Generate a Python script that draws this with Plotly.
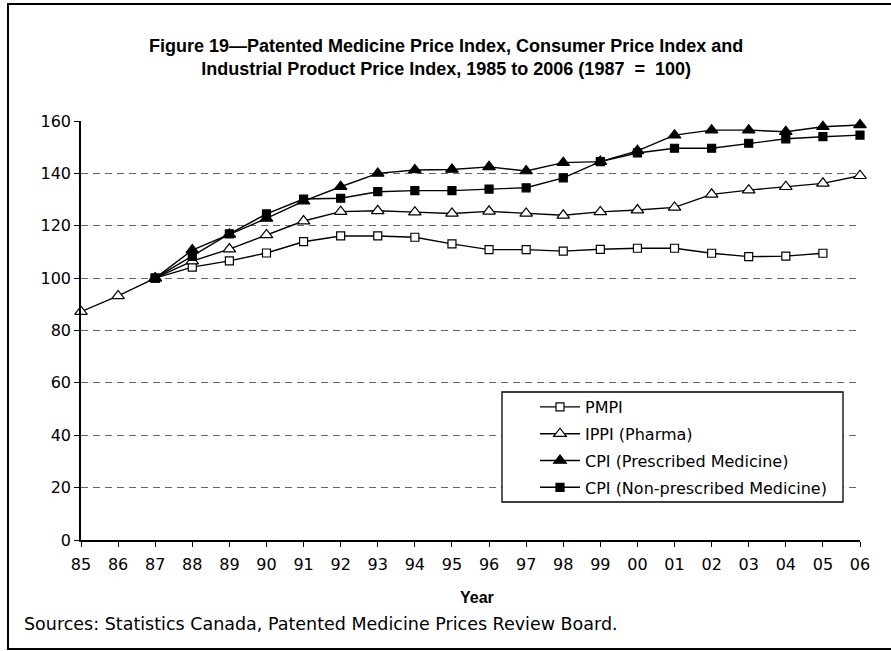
import plotly.graph_objects as go

years = ["85", "86", "87", "88", "89", "90", "91", "92", "93", "94", "95",
         "96", "97", "98", "99", "00", "01", "02", "03", "04", "05", "06"]

pmpi = [None, None, 100, 104.2, 106.6, 109.6, 113.9, 116.1, 116.1, 115.6, 113.1,
        110.9, 110.9, 110.3, 111.0, 111.4, 111.4, 109.5, 108.2, 108.4, 109.5, None]
ippi = [87.2, 93.2, 100, 106.5, 111.1, 116.5, 121.8, 125.4, 125.7, 125.2, 124.7,
        125.5, 124.7, 124.0, 125.3, 126.0, 127.0, 132.0, 133.6, 134.9, 136.2, 139.1]
cpi_p = [None, None, 100, 110.7, 116.7, 122.8, 129.4, 134.9, 140.0, 141.3, 141.5,
         142.5, 140.9, 144.1, 144.5, 148.6, 154.6, 156.5, 156.5, 155.9, 157.8, 158.5]
cpi_np = [None, None, 100, 108.3, 116.9, 124.5, 130.2, 130.5, 133.0, 133.4, 133.4,
          134.0, 134.5, 138.3, 144.5, 147.8, 149.6, 149.6, 151.5, 153.2, 154.0, 154.6]

series_names = ["PMPI", "IPPI (Pharma)", "CPI (Prescribed Medicine)",
                "CPI (Non-prescribed Medicine)"]
y_ticks = [0, 20, 40, 60, 80, 100, 120, 140, 160]

W, H = 891, 651
L, R, T, B = 81, 891 - 860, 121, 651 - 540
pw, ph = W - L - R, H - T - B

def px(x):
    return (x - L) / pw

def py(y):
    return (H - B - y) / ph

FONT = "DejaVu Sans, Verdana, sans-serif"
ARIAL = "Liberation Sans, Arial, sans-serif"

styles = [
    dict(symbol="square", size=8, color="white"),
    dict(symbol="triangle-up", size=11, color="white"),
    dict(symbol="triangle-up", size=11, color="black"),
    dict(symbol="square", size=8, color="black"),
]

fig = go.Figure()
for i, (name, vals) in enumerate(zip(series_names, [pmpi, ippi, cpi_p, cpi_np])):
    st = styles[i]
    fig.add_trace(go.Scatter(
        x=years, y=vals, name=name, mode="lines+markers",
        line=dict(color="black", width=1.4),
        marker=dict(symbol=st["symbol"], size=st["size"], color=st["color"],
                    line=dict(color="black", width=1.2)),
        cliponaxis=False, legendgroup=str(i),
    ))

frame = dict(color="black", width=2)
fig.update_layout(
    width=W, height=H,
    margin=dict(l=L, r=R, t=T, b=B, autoexpand=False),
    paper_bgcolor="white", plot_bgcolor="white",
    font=dict(family=FONT, size=16, color="black"),
    showlegend=True,
    legend=dict(x=px(535), y=py(390), xanchor="left", yanchor="top",
                borderwidth=0, bgcolor="rgba(0,0,0,0)",
                font=dict(size=16), tracegroupgap=3, itemwidth=40,
                traceorder="grouped"),
    xaxis=dict(type="category", range=[0, 21], showgrid=False, zeroline=False,
               showline=True, linecolor="black", linewidth=1.5,
               ticks="outside", ticklen=5, tickcolor="black", tickwidth=1,
               tickfont=dict(size=16), ticklabelstandoff=4),
    yaxis=dict(range=[0, 160], tickvals=y_ticks, showgrid=True,
               gridcolor="#666666", griddash="7px,5px", gridwidth=1,
               zeroline=False, showline=True, linecolor="black", linewidth=1.5,
               ticks="outside", ticklen=5, tickcolor="black", tickwidth=1,
               tickfont=dict(size=16)),
    annotations=[
        dict(text="<b>Figure 19\u2014Patented Medicine Price Index, Consumer Price Index and<br>"
                  "Industrial Product Price Index, 1985 to 2006 (1987 \u00a0=\u00a0 100)</b>",
             xref="paper", yref="paper", x=px(445.5), y=py(57.5),
             xanchor="center", yanchor="middle", showarrow=False,
             font=dict(family=ARIAL, size=18)),
        dict(text="<b>Year</b>", xref="paper", yref="paper", x=px(477), y=py(597),
             xanchor="center", yanchor="middle", showarrow=False,
             font=dict(family=ARIAL, size=16)),
        dict(text="Sources: Statistics Canada, Patented Medicine Prices Review Board.",
             xref="paper", yref="paper", x=px(22), y=py(624),
             xanchor="left", yanchor="middle", showarrow=False, font=dict(size=17.5)),
    ],
    shapes=[
        dict(type="line", xref="paper", yref="paper", x0=px(7), x1=px(895),
             y0=py(4), y1=py(4), line=frame, layer="below"),
        dict(type="line", xref="paper", yref="paper", x0=px(8), x1=px(8),
             y0=py(3), y1=py(650), line=frame, layer="below"),
        dict(type="line", xref="paper", yref="paper", x0=px(7), x1=px(895),
             y0=py(649), y1=py(649), line=frame, layer="below"),
        dict(type="rect", xref="paper", yref="paper", x0=px(502), x1=px(843),
             y0=py(502), y1=py(392), line=dict(color="black", width=1.3),
             fillcolor="white", layer="above"),
    ],
)

fig.write_html("out.html", config={"displayModeBar": False},
               post_script="document.body.style.margin='0px';")
